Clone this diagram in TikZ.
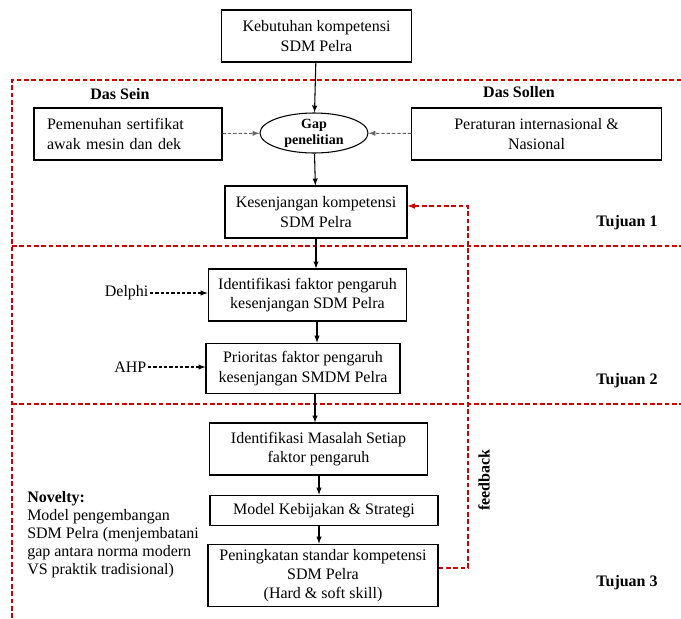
\documentclass[tikz,border=0pt]{standalone}
\usepackage{fontspec}
\setmainfont{Liberation Serif}
\usetikzlibrary{shapes}

\begin{document}
\begin{tikzpicture}[x=0.75pt,y=-0.75pt]
        \tikzstyle{box}=[rectangle,draw,line width=0.8pt,align=center,font=\fontsize{12}{14.5}\selectfont,inner sep=2pt]
        \tikzstyle{lbl}=[font=\fontsize{12}{14}\selectfont\bfseries]
        \tikzstyle{flow}=[->,>=latex,line width=0.8pt]
        \tikzstyle{input}=[->,>=latex,dash pattern=on 2.5pt off 1.5pt,line width=0.8pt]
        \tikzstyle{region}=[dash pattern=on 3.5pt off 2pt,line width=0.9pt,red!80!black]
        \useasboundingbox (0,0) rectangle (681,618);

        % wilayah tujuan
        \draw[region] (12,618) -- (12,80) -- (681,80);
        \draw[region] (12,246) -- (681,246);
        \draw[region] (12,404) -- (681,404);

        \node[box,minimum width=143pt,minimum height=39pt] (kebutuhan) at (316.5,36) {Kebutuhan kompetensi\\SDM Pelra};
        \node[ellipse,draw,line width=0.8pt,minimum width=81pt,minimum height=30pt,inner sep=0pt,align=center,font=\fontsize{10.5}{12}\selectfont\bfseries] (gap) at (314,133) {Gap\\penelitian};
        \node[box,text width=121.5pt,inner xsep=9.75pt,minimum height=39pt,align=left] (sein) at (128,134) {Pemenuhan sertifikat awak mesin dan dek};
        \node[box,minimum width=187pt,minimum height=39pt] (sollen) at (536.5,134) {Peraturan internasional \&\\Nasional};
        \node[box,minimum width=136.5pt,minimum height=39pt] (kesenjangan) at (316,212) {Kesenjangan kompetensi\\SDM Pelra};
        \node[box,minimum width=149pt,minimum height=39pt] (faktor) at (307.5,295) {Identifikasi faktor pengaruh\\kesenjangan SDM Pelra};
        \node[box,minimum width=145.5pt,minimum height=38pt] (prioritas) at (303,368.5) {Prioritas faktor pengaruh\\kesenjangan SMDM Pelra};
        \node[box,minimum width=163pt,minimum height=39pt] (masalah) at (318.5,449) {Identifikasi Masalah Setiap\\faktor pengaruh};
        \node[box,minimum width=171pt,minimum height=23pt] (model) at (324,510.5) {Model Kebijakan \& Strategi};
        \node[box,minimum width=172.5pt,minimum height=47pt] (peningkatan) at (323,575.5) {Peningkatan standar kompetensi\\SDM Pelra\\(Hard \& soft skill)};

        \node[lbl] (dassein) at (120,94) {Das Sein};
        \node[lbl] (dassollen) at (519,92) {Das Sollen};
        \node[lbl] (tujuan1) at (627,223) {Tujuan 1};
        \node[lbl] (tujuan2) at (627,381) {Tujuan 2};
        \node[lbl] (tujuan3) at (627,583) {Tujuan 3};
        \node[font=\fontsize{12}{14}\selectfont,anchor=east,inner sep=1pt] (delphi) at (150,293) {Delphi};
        \node[font=\fontsize{12}{14}\selectfont,anchor=east,inner sep=1pt] (ahp) at (148,367) {AHP};
        \node[lbl,rotate=90] (feedback) at (484,480) {feedback};
        \node[anchor=north west,align=left,inner sep=0pt,font=\fontsize{12}{13.5}\selectfont] (novelty) at (27,491) {\textbf{Novelty:}\\Model pengembangan\\SDM Pelra (menjembatani\\gap antara norma modern\\VS praktik tradisional)};

        \draw[flow] (kebutuhan) -- (gap);
        \draw[flow] (gap) -- (kesenjangan);
        \draw[flow] (kesenjangan) -- (kesenjangan |- faktor.north);
        \draw[flow] (faktor.south -| 317,0) -- (317,0 |- prioritas.north);
        \draw[flow] (prioritas.south -| 315,0) -- (315,0 |- masalah.north);
        \draw[flow] (masalah.south -| 319,0) -- (319,0 |- model.north);
        \draw[flow] (model.south -| 319,0) -- (319,0 |- peningkatan.north);

        \draw[input,gray!80!black] (sein) -- (gap);
        \draw[input,gray!80!black] (sollen) -- (gap);
        \draw[input] (delphi) -- (delphi -| faktor.west);
        \draw[input] (ahp) -- (ahp -| prioritas.west);

        % umpan balik
        \coordinate (fb1) at (468,568);
        \coordinate (fb2) at (468,206);
        \draw[region,->,>=latex] (peningkatan.east |- fb1) -- (fb1) -- (fb2) -- (kesenjangan.east |- fb2);
\end{tikzpicture}
\end{document}
